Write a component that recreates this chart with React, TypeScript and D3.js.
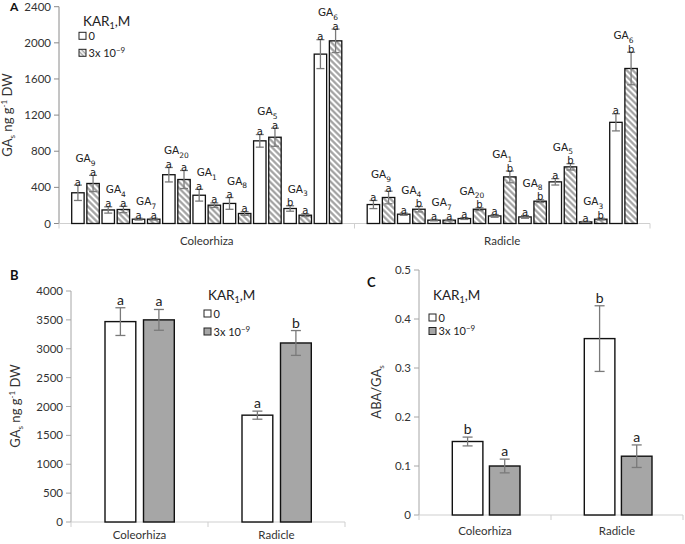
import React from "react";
import * as d3 from "d3";

const organs = ["Coleorhiza", "Radicle"];
const gaSubs = ["9", "4", "7", "20", "1", "8", "5", "3", "6"];
// Panel A, ng g-1 DW; Coleorhiza GA9..GA6 then Radicle GA9..GA6
const aControl = [340, 150, 48, 540, 313, 222, 915, 166, 1875, 210, 103, 37, 55, 84, 73, 461, 18, 1120];
const aControlErr = [85, 35, 10, 80, 65, 65, 70, 30, 160, 45, 12, 8, 10, 15, 15, 35, 6, 95];
const aKar = [443, 155, 48, 487, 203, 111, 955, 92, 2022, 288, 158, 37, 158, 516, 247, 627, 48, 1716];
const aKarErr = [90, 35, 10, 100, 25, 20, 100, 15, 130, 70, 30, 8, 15, 65, 15, 35, 10, 180];
const aControlSig = ["a", "a", "a", "a", "a", "a", "a", "b", "a", "a", "a", "a", "a", "a", "a", "a", "a", "a"];
const aKarSig = ["a", "a", "a", "a", "a", "a", "a", "a", "a", "a", "b", "a", "b", "b", "b", "b", "b", "b"];
const aTicks = [0, 400, 800, 1200, 1600, 2000, 2400];

const bControl = [3470, 1850];
const bControlErr = [240, 70];
const bKar = [3500, 3100];
const bKarErr = [180, 215];
const bControlSig = ["a", "a"];
const bKarSig = ["a", "b"];
const bTicks = [0, 500, 1000, 1500, 2000, 2500, 3000, 3500, 4000];

const cControl = [0.15, 0.36];
const cControlErr = [0.009, 0.067];
const cKar = [0.1, 0.12];
const cKarErr = [0.014, 0.023];
const cControlSig = ["b", "b"];
const cKarSig = ["a", "a"];
const cTicks = [0, 0.1, 0.2, 0.3, 0.4, 0.5];

const series = ["0", "kar"];
const AX = "Lato, 'Open Sans', sans-serif";
const DV = "'DejaVu Sans', sans-serif";
const ERR = "#7a7a7a";

function ErrorBar({ x, y1, y2, cap }: { x: number; y1: number; y2: number; cap: number }) {
  return (
    <g stroke={ERR} strokeWidth={1.3}>
      <line x1={x} x2={x} y1={y1} y2={y2} />
      <line x1={x - cap / 2} x2={x + cap / 2} y1={y1} y2={y1} />
      <line x1={x - cap / 2} x2={x + cap / 2} y1={y2} y2={y2} />
    </g>
  );
}

function YAxis({ x, y, ticks, fmt, color }: { x: number; y: d3.ScaleLinear<number, number>; ticks: number[]; fmt: (d: number) => string; color: string }) {
  return (
    <g>
      <line x1={x} x2={x} y1={y(ticks[0])} y2={y(ticks[ticks.length - 1])} stroke={color} strokeWidth={1} />
      {ticks.map((t) => (
        <g key={t}>
          <line x1={x - 5} x2={x} y1={y(t)} y2={y(t)} stroke={color} strokeWidth={1} />
          <text x={x - 8} y={y(t) + 4} textAnchor="end" fontFamily={AX} fontSize={11.5} fill="#333">
            {fmt(t)}
          </text>
        </g>
      ))}
    </g>
  );
}

function XAxis({ x0, x1, y, org, labelY }: { x0: number; x1: number; y: number; org: d3.ScaleBand<string>; labelY: number }) {
  const edges = [x0, ...organs.map((o) => (org(o) as number) + org.bandwidth())];
  return (
    <g>
      <line x1={x0} x2={x1} y1={y} y2={y} stroke="#cfcfcf" strokeWidth={1} />
      {edges.map((e, i) => (
        <line key={i} x1={e} x2={e} y1={y} y2={y + 5} stroke="#cfcfcf" strokeWidth={1} />
      ))}
      {organs.map((o) => (
        <text key={o} x={(org(o) as number) + org.bandwidth() / 2} y={labelY} textAnchor="middle" fontFamily={AX} fontSize={11.5} fill="#333">
          {o}
        </text>
      ))}
    </g>
  );
}

function Legend({ x, y, kind, r1, r2 }: { x: number; y: number; kind: "hatch" | "gray"; r1: number; r2: number }) {
  return (
    <g fontFamily={AX} fill="#222">
      <text x={x} y={y} fontSize={13.5}>
        KAR<tspan fontSize={9} dy={3}>1</tspan>
        <tspan dy={-3}>,M</tspan>
      </text>
      <rect x={x - 4} y={y + r1} width={7} height={7} fill="white" stroke="#222" strokeWidth={1} />
      <text x={x + 5.5} y={y + r1 + 7.5} fontSize={11}>0</text>
      <rect x={x - 4} y={y + r2} width={7} height={7} fill={kind === "hatch" ? "url(#hatchS)" : "#a6a6a6"} stroke="#222" strokeWidth={1} />
      <text x={x + 5.5} y={y + r2 + 7.5} fontSize={11}>
        3x 10<tspan fontSize={8} dy={-4}>−9</tspan>
      </text>
    </g>
  );
}

function YLabel({ x, y, main, sub, rest }: { x: number; y: number; main: string; sub: string; rest: boolean }) {
  return (
    <text transform={`translate(${x},${y}) rotate(-90)`} textAnchor="middle" fontFamily={AX} fontSize={13} fill="#333">
      {main}
      <tspan fontSize={8} dy={3}>{sub}</tspan>
      {rest ? (
        <>
          <tspan dy={-3}>{"  ng g"}</tspan>
          <tspan fontSize={8} dy={-5}>-1</tspan>
          <tspan dy={5}>{" DW"}</tspan>
        </>
      ) : null}
    </text>
  );
}

function PanelA() {
  const y = d3.scaleLinear().domain([0, 2400]).range([223.5, 6.7]);
  const org = d3.scaleBand<string>().domain(organs).range([59, 650]);
  const pad = 12.7;
  const ga = d3.scaleBand<string>().domain(gaSubs).range([pad, org.bandwidth() - pad]).paddingInner(0.09);
  const ser = d3.scaleBand<string>().domain(series).range([0, ga.bandwidth()]).paddingInner(0.18);
  const items: JSX.Element[] = [];
  organs.forEach((o, oi) => {
    gaSubs.forEach((g, gi) => {
      const i = oi * gaSubs.length + gi;
      const gx = (org(o) as number) + (ga(g) as number);
      const vals = [aControl[i], aKar[i]];
      const errs = [aControlErr[i], aKarErr[i]];
      const sigs = [aControlSig[i], aKarSig[i]];
      let top = Infinity;
      series.forEach((s, si) => {
        const bx = gx + (ser(s) as number);
        const bw = ser.bandwidth();
        const cx = bx + bw / 2;
        const ty = y(vals[si] + errs[si]);
        top = Math.min(top, ty);
        items.push(
          <g key={`${o}-${g}-${s}`}>
            <rect x={bx} y={y(vals[si])} width={bw} height={y(0) - y(vals[si])} fill={si === 0 ? "white" : "url(#hatch)"} stroke="#111" strokeWidth={1.3} />
            <ErrorBar x={cx} y1={ty} y2={y(vals[si] - errs[si])} cap={8} />
            <text x={cx} y={ty + 0.5} textAnchor="middle" fontFamily={DV} fontSize={10} fill="#222">
              {sigs[si]}
            </text>
          </g>
        );
      });
      items.push(
        <text key={`${o}-${g}-lab`} x={gx + ga.bandwidth() / 2} y={top - 13} textAnchor="middle" fontFamily={DV} fontSize={10.5} fill="#222">
          GA<tspan fontSize={7.5} dy={3.5}>{g}</tspan>
        </text>
      );
    });
  });
  return (
    <g>
      <YAxis x={59} y={y} ticks={aTicks} fmt={(d) => String(d)} color="#8a8a8a" />
      <XAxis x0={59} x1={650} y={223.5} org={org} labelY={245} />
      {items}
      <text x={10} y={11} fontFamily={AX} fontWeight="bold" fontSize={12} fill="#111">A</text>
      <YLabel x={12} y={115} main="GA" sub="s" rest={true} />
      <Legend x={83} y={26} kind="hatch" r1={6.3} r2={23.3} />
    </g>
  );
}

function SmallPanel({ x0, x1, y, ctrl, ctrlErr, kar, karErr, ctrlSig, karSig, ticks, fmt, padL, padR, pIn, labelY }: any) {
  const org = d3.scaleBand<string>().domain(organs).range([x0, x1]);
  const ser = d3.scaleBand<string>().domain(series).range([padL, org.bandwidth() - padR]).paddingInner(pIn);
  const items: JSX.Element[] = [];
  organs.forEach((o, oi) => {
    const vals = [ctrl[oi], kar[oi]];
    const errs = [ctrlErr[oi], karErr[oi]];
    const sigs = [ctrlSig[oi], karSig[oi]];
    series.forEach((s, si) => {
      const bx = (org(o) as number) + (ser(s) as number);
      const bw = ser.bandwidth();
      const cx = bx + bw / 2;
      const ty = y(vals[si] + errs[si]);
      items.push(
        <g key={`${o}-${s}`}>
          <rect x={bx} y={y(vals[si])} width={bw} height={y(0) - y(vals[si])} fill={si === 0 ? "white" : "#a6a6a6"} stroke="#111" strokeWidth={1.4} />
          <ErrorBar x={cx} y1={ty} y2={y(vals[si] - errs[si])} cap={10} />
          <text x={cx} y={ty - 3} textAnchor="middle" fontFamily={AX} fontSize={14} fill="#222">
            {sigs[si]}
          </text>
        </g>
      );
    });
  });
  return (
    <g>
      <YAxis x={x0} y={y} ticks={ticks} fmt={fmt} color="#a6a6a6" />
      <XAxis x0={x0} x1={x1} y={y(0)} org={org} labelY={labelY} />
      {items}
    </g>
  );
}

export default function App() {
  const yB = d3.scaleLinear().domain([0, 4000]).range([522, 291]);
  const yC = d3.scaleLinear().domain([0, 0.5]).range([515, 270]);
  return (
    <svg width={685} height={544} style={{ position: "absolute", left: 0, top: 0, background: "white" }}>
      <defs>
        <pattern id="hatch" patternUnits="userSpaceOnUse" width={4.3} height={4.3} patternTransform="rotate(-45)">
          <rect width={4.3} height={4.3} fill="white" />
          <line x1={2.15} x2={2.15} y1={0} y2={4.3} stroke="#9c9c9c" strokeWidth={2.1} />
        </pattern>
        <pattern id="hatchS" patternUnits="userSpaceOnUse" width={3} height={3} patternTransform="rotate(-45)">
          <rect width={3} height={3} fill="white" />
          <line x1={1.5} x2={1.5} y1={0} y2={3} stroke="#9c9c9c" strokeWidth={1.4} />
        </pattern>
      </defs>
      <rect width={685} height={544} fill="white" />
      <PanelA />
      <SmallPanel x0={71} x1={345} y={yB} ctrl={bControl} ctrlErr={bControlErr} kar={bKar} karErr={bKarErr} ctrlSig={bControlSig} karSig={bKarSig} ticks={bTicks} fmt={(d: number) => String(d)} padL={34} padR={33.7} pIn={0.2} labelY={539} />
      <text x={10} y={280} fontFamily={AX} fontWeight="bold" fontSize={13} fill="#111">B</text>
      <YLabel x={20} y={406} main="GA" sub="s" rest={true} />
      <Legend x={208} y={300} kind="gray" r1={10} r2={28} />
      <SmallPanel x0={419} x1={683} y={yC} ctrl={cControl} ctrlErr={cControlErr} kar={cKar} karErr={cKarErr} ctrlSig={cControlSig} karSig={cKarSig} ticks={cTicks} fmt={(d: number) => (d === 0 ? "0" : d3.format(".1f")(d))} padL={33.3} padR={31} pIn={0.176} labelY={535} />
      <text x={367} y={287} fontFamily={AX} fontWeight="bold" fontSize={13} fill="#111">C</text>
      <YLabel x={381} y={392} main="ABA/GA" sub="s" rest={false} />
      <Legend x={433} y={300} kind="gray" r1={14} r2={27.5} />
    </svg>
  );
}
